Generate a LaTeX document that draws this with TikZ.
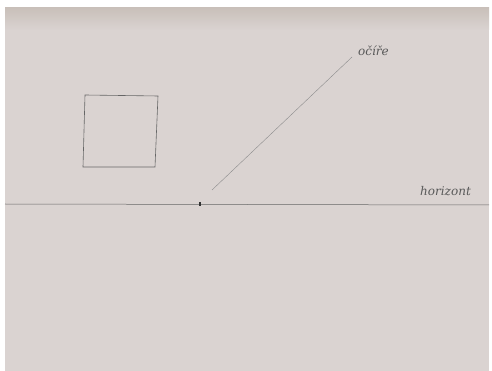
\documentclass[tikz,border=0pt]{standalone}
\usepackage{fontspec}
\setmainfont{DejaVu Serif}
\begin{document}
\begin{tikzpicture}[x=1pt,y=-1pt,
  pencil/.style={draw=black!60,line width=0.6pt},
  hand/.style={text=black!65,font=\itshape\fontsize{12}{12}\selectfont,inner sep=0pt}]
\definecolor{paper}{HTML}{DAD3D1}
\definecolor{shade}{HTML}{C9C0BA}
\useasboundingbox (0,0) rectangle (492,371);
\fill[white] (0,0) rectangle (492,371);
\fill[paper] (5,8) rectangle (489,371);
\shade[top color=shade,bottom color=paper] (5,8) rectangle (489,30);
% square
\draw[pencil] (85,95) -- (158,96) -- (155,167) -- (83,167) -- cycle;
% horizon
\coordinate (hl) at (5,204);
\coordinate (hr) at (489,205);
\draw[pencil,line width=0.5pt] (hl) -- (hr);
\node[fill=black!80,minimum width=1.5pt,minimum height=3.5pt,inner sep=0pt] (vp) at (200,204) {};
\node[hand,anchor=south west] (hor) at (420,196) {horizont};
\node[hand,anchor=south west] (oc) at (358,56) {očíře};
\coordinate (ls) at (212,190);
\coordinate (le) at (352,57);
\draw[pencil,line width=0.4pt,draw=black!45] (ls) -- (le);
\end{tikzpicture}
\end{document}
